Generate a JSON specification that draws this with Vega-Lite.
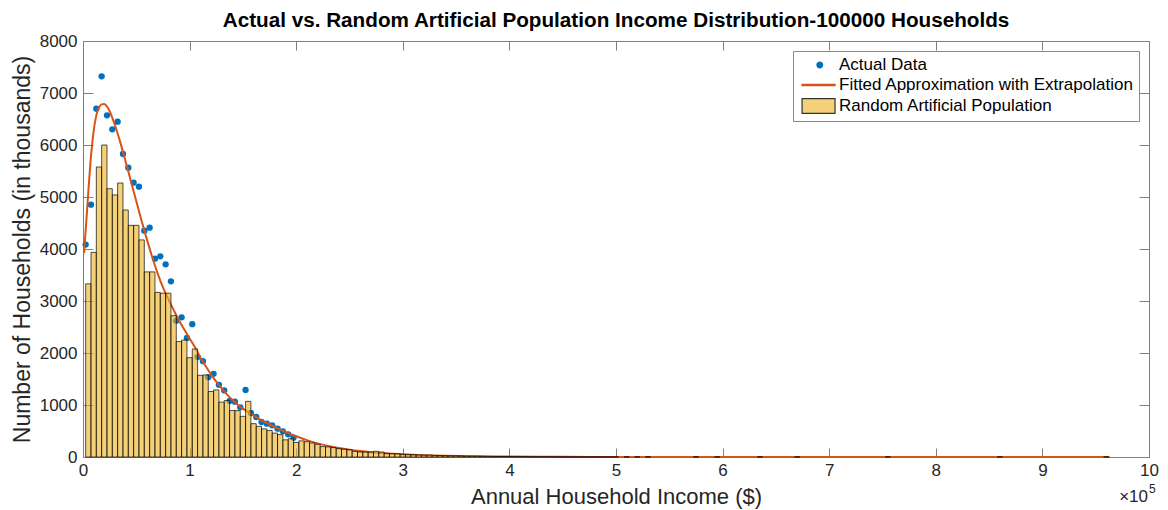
{
  "$schema": "https://vega.github.io/schema/vega-lite/v6.json",
  "width": 1066,
  "height": 416,
  "autosize": "none",
  "padding": {"left": 83, "top": 41, "right": 19, "bottom": 53},
  "background": "white",
  "title": {"text": "Actual vs. Random Artificial Population Income Distribution-100000 Households", "font": "Liberation Sans", "fontSize": 20.7, "fontWeight": "bold", "color": "#000000", "offset": 0, "anchor": "middle"},
  "datasets": {
    "legendrows": [
      {"series": "Actual Data"},
      {"series": "Fitted Approximation with Extrapolation"},
      {"series": "Random Artificial Population"}
    ],
    "actual": [
      {"income": 2500, "households": 4085},
      {"income": 7500, "households": 4853},
      {"income": 12500, "households": 6699},
      {"income": 17500, "households": 7321},
      {"income": 22500, "households": 6571},
      {"income": 27500, "households": 6301},
      {"income": 32500, "households": 6449},
      {"income": 37500, "households": 5827},
      {"income": 42500, "households": 5564},
      {"income": 47500, "households": 5276},
      {"income": 52500, "households": 5199},
      {"income": 57500, "households": 4353},
      {"income": 62500, "households": 4410},
      {"income": 67500, "households": 3814},
      {"income": 72500, "households": 3859},
      {"income": 77500, "households": 3705},
      {"income": 82500, "households": 3378},
      {"income": 87500, "households": 2622},
      {"income": 92500, "households": 2686},
      {"income": 97500, "households": 2290},
      {"income": 102500, "households": 2555},
      {"income": 107500, "households": 1923},
      {"income": 112500, "households": 1843},
      {"income": 117500, "households": 1535},
      {"income": 122500, "households": 1600},
      {"income": 127500, "households": 1388},
      {"income": 132500, "households": 1280},
      {"income": 137500, "households": 1077},
      {"income": 142500, "households": 1064},
      {"income": 147500, "households": 955},
      {"income": 152500, "households": 1290},
      {"income": 157500, "households": 846},
      {"income": 162500, "households": 769},
      {"income": 167500, "households": 673},
      {"income": 172500, "households": 641},
      {"income": 177500, "households": 609},
      {"income": 182500, "households": 545},
      {"income": 187500, "households": 494},
      {"income": 192500, "households": 436},
      {"income": 197500, "households": 370}
    ],
    "fit": [
      {"income": 1000, "households": 3920},
      {"income": 2500, "households": 4350},
      {"income": 3500, "households": 4650},
      {"income": 5000, "households": 5100},
      {"income": 7500, "households": 5780},
      {"income": 10000, "households": 6270},
      {"income": 12500, "households": 6570},
      {"income": 15000, "households": 6720},
      {"income": 17500, "households": 6780},
      {"income": 20000, "households": 6790},
      {"income": 22500, "households": 6740},
      {"income": 25000, "households": 6650},
      {"income": 27500, "households": 6520},
      {"income": 30000, "households": 6380},
      {"income": 35000, "households": 6050},
      {"income": 40000, "households": 5680},
      {"income": 45000, "households": 5300},
      {"income": 50000, "households": 4920},
      {"income": 55000, "households": 4540},
      {"income": 60000, "households": 4180},
      {"income": 65000, "households": 3840},
      {"income": 70000, "households": 3530},
      {"income": 75000, "households": 3260},
      {"income": 80000, "households": 3040},
      {"income": 85000, "households": 2830},
      {"income": 90000, "households": 2630},
      {"income": 95000, "households": 2450},
      {"income": 100000, "households": 2280},
      {"income": 105000, "households": 2110},
      {"income": 110000, "households": 1920},
      {"income": 115000, "households": 1750},
      {"income": 120000, "households": 1590},
      {"income": 125000, "households": 1450},
      {"income": 130000, "households": 1320},
      {"income": 135000, "households": 1205},
      {"income": 140000, "households": 1100},
      {"income": 145000, "households": 1010},
      {"income": 150000, "households": 930},
      {"income": 155000, "households": 860},
      {"income": 160000, "households": 795},
      {"income": 165000, "households": 735},
      {"income": 170000, "households": 680},
      {"income": 175000, "households": 625},
      {"income": 180000, "households": 575},
      {"income": 185000, "households": 528},
      {"income": 190000, "households": 483},
      {"income": 195000, "households": 440},
      {"income": 200000, "households": 400},
      {"income": 210000, "households": 325},
      {"income": 220000, "households": 262},
      {"income": 230000, "households": 212},
      {"income": 240000, "households": 172},
      {"income": 250000, "households": 140},
      {"income": 260000, "households": 114},
      {"income": 270000, "households": 93},
      {"income": 280000, "households": 76},
      {"income": 290000, "households": 62},
      {"income": 300000, "households": 51},
      {"income": 320000, "households": 35},
      {"income": 340000, "households": 24},
      {"income": 360000, "households": 16.5},
      {"income": 380000, "households": 11.5},
      {"income": 400000, "households": 8},
      {"income": 450000, "households": 3.2},
      {"income": 500000, "households": 1.3},
      {"income": 550000, "households": 0.55},
      {"income": 600000, "households": 0.25},
      {"income": 700000, "households": 0.05},
      {"income": 800000, "households": 0.01},
      {"income": 963000, "households": 0}
    ],
    "bins": [
      {"s": 2500, "e": 7500, "c": 3330},
      {"s": 7500, "e": 12500, "c": 3935},
      {"s": 12500, "e": 17500, "c": 5577},
      {"s": 17500, "e": 22500, "c": 6000},
      {"s": 22500, "e": 27500, "c": 5160},
      {"s": 27500, "e": 32500, "c": 5040},
      {"s": 32500, "e": 37500, "c": 5270},
      {"s": 37500, "e": 42500, "c": 4750},
      {"s": 42500, "e": 47500, "c": 4455},
      {"s": 47500, "e": 52500, "c": 4455},
      {"s": 52500, "e": 57500, "c": 4175},
      {"s": 57500, "e": 62500, "c": 3560},
      {"s": 62500, "e": 67500, "c": 3560},
      {"s": 67500, "e": 72500, "c": 3165},
      {"s": 72500, "e": 77500, "c": 3150},
      {"s": 77500, "e": 82500, "c": 3150},
      {"s": 82500, "e": 87500, "c": 2718},
      {"s": 87500, "e": 92500, "c": 2220},
      {"s": 92500, "e": 97500, "c": 2250},
      {"s": 97500, "e": 102500, "c": 1910},
      {"s": 102500, "e": 107500, "c": 2077},
      {"s": 107500, "e": 112500, "c": 1571},
      {"s": 112500, "e": 117500, "c": 1577},
      {"s": 117500, "e": 122500, "c": 1260},
      {"s": 122500, "e": 127500, "c": 1290},
      {"s": 127500, "e": 132500, "c": 1055},
      {"s": 132500, "e": 137500, "c": 1085},
      {"s": 137500, "e": 142500, "c": 895},
      {"s": 142500, "e": 147500, "c": 891},
      {"s": 147500, "e": 152500, "c": 782},
      {"s": 152500, "e": 157500, "c": 1070},
      {"s": 157500, "e": 162500, "c": 641},
      {"s": 162500, "e": 167500, "c": 590},
      {"s": 167500, "e": 172500, "c": 540},
      {"s": 172500, "e": 177500, "c": 510},
      {"s": 177500, "e": 182500, "c": 460},
      {"s": 182500, "e": 187500, "c": 430},
      {"s": 187500, "e": 192500, "c": 330},
      {"s": 192500, "e": 197500, "c": 350},
      {"s": 197500, "e": 202500, "c": 280},
      {"s": 202500, "e": 207500, "c": 310},
      {"s": 207500, "e": 212500, "c": 295},
      {"s": 212500, "e": 217500, "c": 270},
      {"s": 217500, "e": 222500, "c": 245},
      {"s": 222500, "e": 227500, "c": 200},
      {"s": 227500, "e": 232500, "c": 195},
      {"s": 232500, "e": 237500, "c": 180},
      {"s": 237500, "e": 242500, "c": 160},
      {"s": 242500, "e": 247500, "c": 150},
      {"s": 247500, "e": 252500, "c": 141},
      {"s": 252500, "e": 257500, "c": 109},
      {"s": 257500, "e": 262500, "c": 96},
      {"s": 262500, "e": 267500, "c": 96},
      {"s": 267500, "e": 272500, "c": 96},
      {"s": 272500, "e": 277500, "c": 110},
      {"s": 277500, "e": 282500, "c": 96},
      {"s": 282500, "e": 287500, "c": 70},
      {"s": 287500, "e": 292500, "c": 64},
      {"s": 292500, "e": 297500, "c": 64},
      {"s": 297500, "e": 302500, "c": 51},
      {"s": 302500, "e": 307500, "c": 47},
      {"s": 307500, "e": 312500, "c": 44},
      {"s": 312500, "e": 317500, "c": 40},
      {"s": 317500, "e": 322500, "c": 36},
      {"s": 322500, "e": 327500, "c": 37},
      {"s": 327500, "e": 332500, "c": 31},
      {"s": 332500, "e": 337500, "c": 29},
      {"s": 337500, "e": 342500, "c": 26},
      {"s": 342500, "e": 347500, "c": 23},
      {"s": 347500, "e": 352500, "c": 24},
      {"s": 352500, "e": 357500, "c": 20},
      {"s": 357500, "e": 362500, "c": 18},
      {"s": 362500, "e": 367500, "c": 17},
      {"s": 367500, "e": 372500, "c": 15},
      {"s": 372500, "e": 377500, "c": 14},
      {"s": 377500, "e": 382500, "c": 13},
      {"s": 382500, "e": 387500, "c": 11},
      {"s": 387500, "e": 392500, "c": 10},
      {"s": 392500, "e": 397500, "c": 9},
      {"s": 397500, "e": 402500, "c": 9},
      {"s": 402500, "e": 407500, "c": 7},
      {"s": 407500, "e": 412500, "c": 7},
      {"s": 412500, "e": 417500, "c": 6},
      {"s": 417500, "e": 422500, "c": 5},
      {"s": 422500, "e": 427500, "c": 5},
      {"s": 427500, "e": 432500, "c": 4},
      {"s": 432500, "e": 437500, "c": 4},
      {"s": 437500, "e": 442500, "c": 3},
      {"s": 442500, "e": 447500, "c": 3},
      {"s": 447500, "e": 452500, "c": 3},
      {"s": 452500, "e": 457500, "c": 2},
      {"s": 457500, "e": 462500, "c": 2},
      {"s": 462500, "e": 467500, "c": 2},
      {"s": 467500, "e": 472500, "c": 2},
      {"s": 472500, "e": 477500, "c": 1},
      {"s": 477500, "e": 482500, "c": 1},
      {"s": 482500, "e": 487500, "c": 1},
      {"s": 487500, "e": 492500, "c": 1},
      {"s": 492500, "e": 497500, "c": 1},
      {"s": 497500, "e": 502500, "c": 1},
      {"s": 507500, "e": 512500, "c": 1},
      {"s": 517500, "e": 522500, "c": 1},
      {"s": 527500, "e": 532500, "c": 1},
      {"s": 572500, "e": 577500, "c": 1},
      {"s": 592500, "e": 597500, "c": 1},
      {"s": 632500, "e": 637500, "c": 1},
      {"s": 667500, "e": 672500, "c": 1},
      {"s": 752500, "e": 757500, "c": 1},
      {"s": 857500, "e": 862500, "c": 1},
      {"s": 957500, "e": 962500, "c": 1}
    ]
  },
  "layer": [
    {
      "data": {"name": "actual"},
      "mark": {"type": "circle", "size": 40, "opacity": 1, "color": "#0072BD"},
      "encoding": {
        "x": {"field": "income", "type": "quantitative", "scale": {"domain": [0, 1000000], "nice": false, "zero": false},
          "axis": {"orient": "bottom", "title": "Annual Household Income ($)", "values": [0, 100000, 200000, 300000, 400000, 500000, 600000, 700000, 800000, 900000, 1000000], "labelExpr": "datum.value / 100000", "tickSize": -9, "labelPadding": 14, "titlePadding": 8, "titleFontSize": 22, "labelFlush": false, "labelOverlap": false, "grid": false}},
        "y": {"field": "households", "type": "quantitative", "scale": {"domain": [0, 8000], "nice": false},
          "axis": {"orient": "left", "title": "Number of Households (in thousands)", "values": [0, 1000, 2000, 3000, 4000, 5000, 6000, 7000, 8000], "format": "d", "tickSize": -10, "labelPadding": 16, "titlePadding": 5, "titleFontSize": 23, "grid": false}}
      }
    },
    {
      "data": {"name": "fit"},
      "mark": {"type": "line", "strokeWidth": 2, "interpolate": "monotone", "color": "#D95319"},
      "encoding": {
        "x": {"field": "income", "type": "quantitative", "scale": {"domain": [0, 1000000], "nice": false, "zero": false}, "axis": null},
        "y": {"field": "households", "type": "quantitative", "scale": {"domain": [0, 8000], "nice": false}, "axis": null}
      }
    },
    {
      "data": {"name": "bins"},
      "mark": {"type": "rect", "fill": "#EDB120", "fillOpacity": 0.6, "stroke": "#000000", "strokeWidth": 0.8, "strokeOpacity": 0.85},
      "encoding": {
        "x": {"field": "s", "type": "quantitative", "scale": {"domain": [0, 1000000], "nice": false, "zero": false}, "axis": null},
        "x2": {"field": "e"},
        "y": {"field": "c", "type": "quantitative", "scale": {"domain": [0, 8000], "nice": false}, "axis": null},
        "y2": {"datum": 0}
      }
    },
    {
      "data": {"name": "legendrows"},
      "mark": {"type": "point", "filled": true, "opacity": 0},
      "encoding": {
        "x": {"datum": 500000, "type": "quantitative", "scale": {"domain": [0, 1000000], "nice": false, "zero": false}, "axis": null},
        "y": {"datum": 4000, "type": "quantitative", "scale": {"domain": [0, 8000], "nice": false}, "axis": null},
        "color": {"field": "series", "type": "nominal",
          "scale": {"domain": ["Actual Data", "Fitted Approximation with Extrapolation", "Random Artificial Population"], "range": ["#0072BD", "#D95319", "#F4D079"]},
          "legend": {"title": null, "orient": "top-right", "offset": 10, "direction": "vertical", "fillColor": "white", "strokeColor": "#8a8a8a", "padding": 5, "labelFont": "Liberation Sans", "labelFontSize": 17, "labelColor": "#000000", "labelLimit": 500, "symbolSize": 272, "symbolOpacity": 1, "symbolStrokeWidth": 1.2, "labelOffset": 23, "rowPadding": 3}},
        "shape": {"field": "series", "type": "nominal",
          "scale": {"domain": ["Actual Data", "Fitted Approximation with Extrapolation", "Random Artificial Population"], "range": ["M1.97,0A0.42,0.42,0,1,1,1.13,0A0.42,0.42,0,1,1,1.97,0Z", "M-0.6,-0.07H3.4V0.07H-0.6Z", "M-0.6,-0.9H3.4V0.9H-0.6Z"]},
          "legend": {"title": null, "orient": "top-right", "offset": 10, "direction": "vertical", "fillColor": "white", "strokeColor": "#8a8a8a", "padding": 5, "labelFont": "Liberation Sans", "labelFontSize": 17, "labelColor": "#000000", "labelLimit": 500, "symbolSize": 272, "symbolOpacity": 1, "symbolStrokeWidth": 1.2, "labelOffset": 23, "rowPadding": 3}},
        "stroke": {"field": "series", "type": "nominal",
          "scale": {"domain": ["Actual Data", "Fitted Approximation with Extrapolation", "Random Artificial Population"], "range": ["transparent", "#D95319", "#333333"]},
          "legend": {"title": null, "orient": "top-right", "offset": 10, "direction": "vertical", "fillColor": "white", "strokeColor": "#8a8a8a", "padding": 5, "labelFont": "Liberation Sans", "labelFontSize": 17, "labelColor": "#000000", "labelLimit": 500, "symbolSize": 272, "symbolOpacity": 1, "symbolStrokeWidth": 1.2, "labelOffset": 23, "rowPadding": 3}}
      }
    },
    {
      "data": {"values": [{"label": "×10"}]},
      "mark": {"type": "text", "align": "right", "baseline": "middle", "dx": -1, "dy": 40, "font": "Liberation Sans", "fontSize": 17, "color": "#262626"},
      "encoding": {
        "x": {"datum": 1000000, "type": "quantitative", "scale": {"domain": [0, 1000000], "nice": false, "zero": false}, "axis": null},
        "y": {"datum": 0, "type": "quantitative", "scale": {"domain": [0, 8000], "nice": false}, "axis": null},
        "text": {"field": "label"}
      }
    },
    {
      "data": {"values": [{"label": "5"}]},
      "mark": {"type": "text", "align": "left", "baseline": "middle", "dx": 0, "dy": 32, "font": "Liberation Sans", "fontSize": 12, "color": "#262626"},
      "encoding": {
        "x": {"datum": 1000000, "type": "quantitative", "scale": {"domain": [0, 1000000], "nice": false, "zero": false}, "axis": null},
        "y": {"datum": 0, "type": "quantitative", "scale": {"domain": [0, 8000], "nice": false}, "axis": null},
        "text": {"field": "label"}
      }
    },
    {
      "data": {"name": "actual"},
      "mark": {"type": "circle", "opacity": 0},
      "encoding": {
        "x": {"field": "income", "type": "quantitative", "scale": {"domain": [0, 1000000], "nice": false, "zero": false},
          "axis": {"orient": "top", "title": null, "labels": false, "values": [0, 100000, 200000, 300000, 400000, 500000, 600000, 700000, 800000, 900000, 1000000], "tickSize": -9, "grid": false}},
        "y": {"field": "households", "type": "quantitative", "scale": {"domain": [0, 8000], "nice": false},
          "axis": {"orient": "right", "title": null, "labels": false, "values": [0, 1000, 2000, 3000, 4000, 5000, 6000, 7000, 8000], "tickSize": -10, "grid": false}}
      }
    }
  ],
  "resolve": {"axis": {"x": "independent", "y": "independent"}},
  "config": {
    "view": {"stroke": "#808080", "strokeWidth": 1},
    "axis": {"domainColor": "#808080", "tickColor": "#808080", "labelColor": "#262626", "titleColor": "#262626", "labelFont": "Liberation Sans", "titleFont": "Liberation Sans", "labelFontSize": 17, "titleFontSize": 22, "titleFontWeight": "normal", "grid": false}
  }
}
